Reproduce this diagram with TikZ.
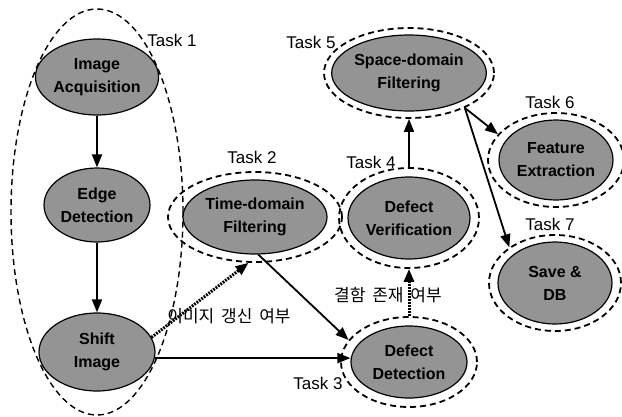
\documentclass[tikz,border=0pt]{standalone}
\usepackage{fontspec}
\setmainfont{Liberation Sans}
\newfontfamily\hangul[WordSpace=1.8]{Noto Sans CJK KR}
\usetikzlibrary{arrows.meta,shapes.geometric}

\begin{document}
\begin{tikzpicture}[x=1pt,y=-1pt,
    job/.style={ellipse,draw=black,line width=1.2pt,fill=black!42,inner sep=0pt,
      align=center,font=\fontsize{16}{23}\selectfont\bfseries},
    ring/.style={ellipse,draw,line width=1.8pt,dash pattern=on 6pt off 4pt,inner sep=0pt},
    tag/.style={font=\fontsize{17}{20}\selectfont},
    note/.style={font=\fontsize{17}{20}\selectfont\hangul},
    flow/.style={line width=1.8pt,-{Triangle[length=13pt,width=10pt]}},
    hint/.style={flow,line width=3pt,dash pattern=on 1.8pt off 1.2pt}]
  \useasboundingbox (0,0) rectangle (622,416);

  % task 1 holds the first three jobs
  \node[ring,line width=1.4pt,minimum width=172,minimum height=406] (acq-r) at (97,212) {};
  \node[job,minimum width=114,minimum height=76] (acq) at (97,77) {Image\\Acquisition};
  \node[job,minimum width=106,minimum height=74] (edge) at (97,205) {Edge\\Detection};
  \node[job,minimum width=116,minimum height=78] (shift) at (97,352) {Shift\\Image};
  \node[tag] (t1) at (172,40) {Task 1};

  % tasks 2 to 7, each job in its own ring
  \node[job,minimum width=144,minimum height=74] (time) at (255,217) {Time-domain\\Filtering};
  \node[ring,minimum width=174,minimum height=90] (time-r) at (time) {};
  \node[tag] (t2) at (252,157) {Task 2};

  \node[job,minimum width=116,minimum height=72] (detect) at (409,362) {Defect\\Detection};
  \node[ring,minimum width=136,minimum height=90] (detect-r) at (detect) {};
  \node[tag] (t3) at (318,383) {Task 3};

  \node[job,minimum width=114,minimum height=82] (verify) at (409,218) {Defect\\Verification};
  \node[ring,minimum width=140,minimum height=100] (verify-r) at (verify) {};
  \node[tag] (t4) at (371,162) {Task 4};

  \node[job,minimum width=146,minimum height=76] (space) at (409,73) {Space-domain\\Filtering};
  \node[ring,minimum width=170,minimum height=90] (space-r) at (space) {};
  \node[tag] (t5) at (311,42) {Task 5};

  \node[job,minimum width=114,minimum height=80] (feature) at (556,160) {Feature\\Extraction};
  \node[ring,minimum width=136,minimum height=94] (feature-r) at (feature) {};
  \node[tag] (t6) at (550,102) {Task 6};

  \node[job,minimum width=114,minimum height=82] (save) at (555,283) {Save \&\\DB};
  \node[ring,minimum width=132,minimum height=96] (save-r) at (save) {};
  \node[tag] (t7) at (550,224) {Task 7};

  \node[note] (upd) at (229,316) {이미지 갱신 여부};
  \node[note] (chk) at (388,295) {결함 존재 여부};

  % connectors
  \draw[flow] (acq) -- (edge);
  \draw[flow] (edge) -- (shift);
  \draw[flow] (shift.-6) -- (shift.-6 -| detect.west);
  \draw[hint] (shift.15) -- (time-r.-98);
  \draw[flow] (time.-85) -- (detect-r.160);
  \draw[hint] (detect-r.north) -- (verify-r.south);
  \draw[flow] (verify-r) -- (space-r);
  \coordinate (fork) at (space-r.-32);
  \draw[flow] (fork) -- (feature-r.156);
  \draw[flow] (fork) -- (save-r.142);
\end{tikzpicture}
\end{document}
